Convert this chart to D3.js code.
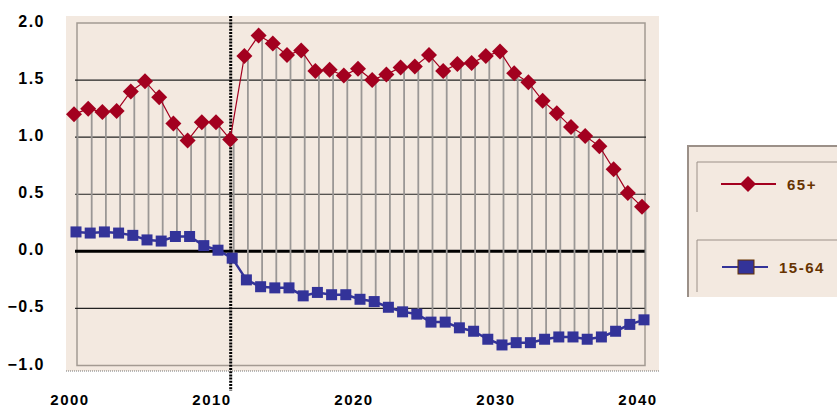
<!DOCTYPE html>
<html>
<head>
<meta charset="utf-8">
<script src="https://cdn.jsdelivr.net/npm/d3@7"></script>
<style>
  body { margin: 0; background: #fff; }
  svg { display: block; font-family: "Liberation Sans", Arial, sans-serif; }
</style>
</head>
<body>
<div id="chart"></div>
<script>
const years = d3.range(2000, 2041);

const old65 = [1.20, 1.25, 1.22, 1.23, 1.40, 1.49, 1.35, 1.12, 0.97, 1.13,
  1.13, 0.98, 1.71, 1.89, 1.82, 1.72, 1.76, 1.58, 1.59, 1.54,
  1.60, 1.50, 1.55, 1.61, 1.62, 1.72, 1.58, 1.64, 1.65, 1.71,
  1.75, 1.56, 1.48, 1.32, 1.21, 1.09, 1.01, 0.92, 0.72, 0.51, 0.39];

const work1564 = [0.17, 0.16, 0.17, 0.16, 0.14, 0.10, 0.09, 0.13, 0.13, 0.05,
  0.01, -0.06, -0.25, -0.31, -0.32, -0.32, -0.39, -0.36, -0.38, -0.38,
  -0.42, -0.44, -0.49, -0.53, -0.55, -0.62, -0.62, -0.67, -0.70, -0.77,
  -0.82, -0.80, -0.80, -0.77, -0.75, -0.75, -0.77, -0.75, -0.70, -0.64, -0.60];

const yTicks = [2.0, 1.5, 1.0, 0.5, 0.0, -0.5, -1.0];
const xTicks = [2000, 2010, 2020, 2030, 2040];
const markYear = 2011;

const width = 837, height = 407;
const bg = "#f3e9e0";
const red = "#a3001f";
const blue = "#333399";
const brown = "#663300";

const svg = d3.select("#chart").append("svg")
  .attr("width", width).attr("height", height);

const x = d3.scaleLinear().domain([2000, 2040]).range([77, 645]);
const y = d3.scaleLinear().domain([-1, 2]).range([365.5, 23]);

// panel
svg.append("rect").attr("x", 66).attr("y", 16).attr("width", 593).attr("height", 355).attr("fill", bg);
svg.append("line").attr("x1", 66).attr("x2", 659).attr("y1", 371).attr("y2", 371)
  .attr("stroke", "#777").attr("stroke-width", 1).attr("stroke-dasharray", "1,1");

// plot area
svg.append("rect").attr("x", x(2000)).attr("y", y(2)).attr("width", x(2040) - x(2000))
  .attr("height", y(-1) - y(2)).attr("fill", bg).attr("stroke", "#a39a92").attr("stroke-width", 1.5);

// gridlines
svg.append("g").selectAll("line").data(yTicks.filter(d => d !== 2 && d !== -1)).join("line")
  .attr("x1", 75).attr("x2", 646)
  .attr("y1", d => y(d)).attr("y2", d => y(d))
  .attr("stroke", d => d === 0 ? "#000" : "#222")
  .attr("stroke-width", d => d === 0 ? 3 : 1.2);

// high-low lines
svg.append("g").selectAll("line").data(years).join("line")
  .attr("x1", d => x(d) + 0.5).attr("x2", d => x(d) + 0.5)
  .attr("y1", (d, i) => y(old65[i])).attr("y2", (d, i) => y(work1564[i]))
  .attr("stroke", "#9a9795").attr("stroke-width", 1.8);

// dotted marker line
svg.append("line").attr("x1", x(markYear) - 2.5).attr("x2", x(markYear) - 2.5)
  .attr("y1", 16).attr("y2", 391)
  .attr("stroke", "#000").attr("stroke-width", 3).attr("stroke-dasharray", "2,1.2");

// 65+ series
const dOff = -3, sOff = -1;
svg.append("path").datum(years)
  .attr("fill", "none").attr("stroke", red).attr("stroke-width", 1.2)
  .attr("d", d3.line().x(d => x(d) + dOff).y((d, i) => y(old65[i])));

const diamond = "M0,-8L8,0L0,8L-8,0Z";
svg.append("g").selectAll("path").data(years).join("path")
  .attr("d", diamond).attr("fill", red)
  .attr("transform", (d, i) => `translate(${x(d) + dOff},${y(old65[i])})`);

// 15-64 series
svg.append("path").datum(years)
  .attr("fill", "none").attr("stroke", blue).attr("stroke-width", 2.5)
  .attr("d", d3.line().x(d => x(d) + sOff).y((d, i) => y(work1564[i])));

svg.append("g").selectAll("rect").data(years).join("rect")
  .attr("x", d => x(d) + sOff - 5.5).attr("y", (d, i) => y(work1564[i]) - 5.5)
  .attr("width", 11).attr("height", 11).attr("fill", blue);

// axis labels
svg.append("g").selectAll("text").data(yTicks).join("text")
  .attr("x", 45).attr("y", d => y(d) + 4)
  .attr("text-anchor", "end").attr("font-size", 16).attr("font-weight", "bold")
  .attr("letter-spacing", 1.5).attr("fill", "#000")
  .text(d => d3.format(".1f")(d));

svg.append("g").selectAll("text").data(xTicks).join("text")
  .attr("x", d => x(d) - 7).attr("y", 405)
  .attr("text-anchor", "middle").attr("font-size", 15).attr("font-weight", "bold")
  .attr("letter-spacing", 1.5).attr("fill", "#000")
  .text(d => d);

// legend
const lg = svg.append("g");
lg.append("rect").attr("x", 688).attr("y", 146).attr("width", 160).attr("height", 151).attr("fill", bg);
lg.append("path").attr("d", "M688,297L688,146L840,146").attr("fill", "none")
  .attr("stroke", "#9b9088").attr("stroke-width", 2);
[[162, 212], [240, 292]].forEach(([t, b]) => {
  lg.append("path").attr("d", `M697,${b}L697,${t}L840,${t}`).attr("fill", "none")
    .attr("stroke", "#9b9088").attr("stroke-width", 1);
});

lg.append("line").attr("x1", 721).attr("x2", 776).attr("y1", 184).attr("y2", 184)
  .attr("stroke", red).attr("stroke-width", 2);
lg.append("path").attr("d", diamond).attr("fill", red).attr("transform", "translate(748,184)");
lg.append("text").attr("x", 787).attr("y", 189.5).text("65+")
  .attr("font-size", 15).attr("font-weight", "bold").attr("letter-spacing", 1.5).attr("fill", brown);

lg.append("line").attr("x1", 722).attr("x2", 768).attr("y1", 267).attr("y2", 267)
  .attr("stroke", blue).attr("stroke-width", 2);
lg.append("rect").attr("x", 738).attr("y", 260).attr("width", 16).attr("height", 14)
  .attr("fill", blue).attr("stroke", brown).attr("stroke-width", 1);
lg.append("text").attr("x", 779).attr("y", 272.5).text("15-64")
  .attr("font-size", 15).attr("font-weight", "bold").attr("letter-spacing", 1.5).attr("fill", brown);
</script>
</body>
</html>
